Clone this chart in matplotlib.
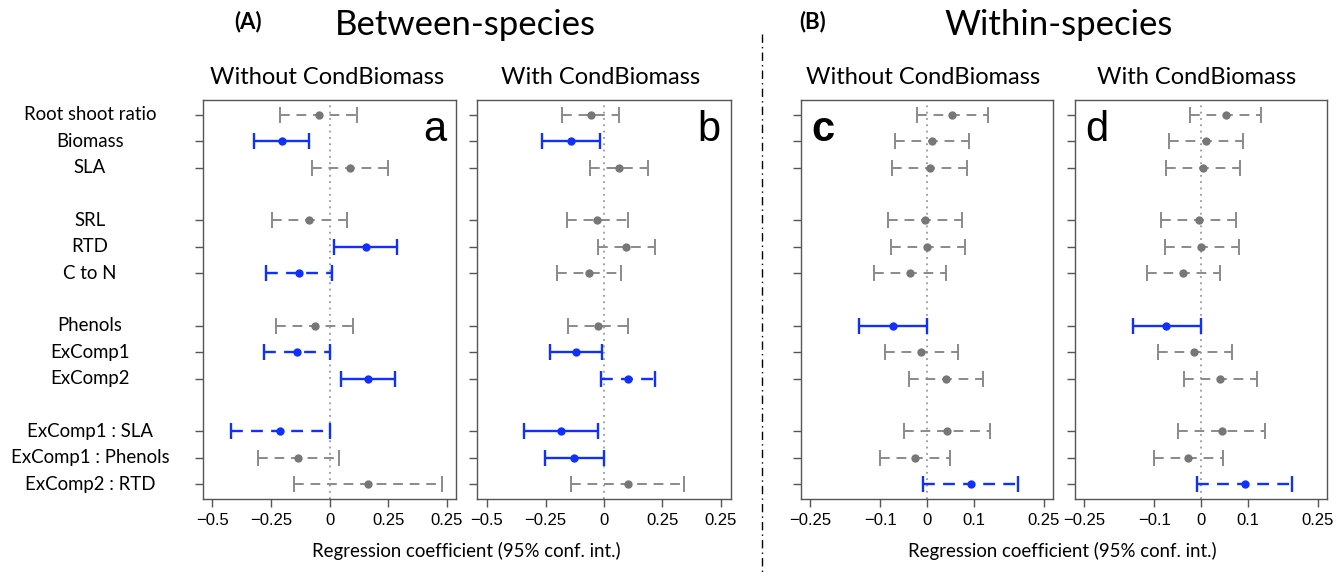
import matplotlib.pyplot as plt
import matplotlib.transforms as mtransforms
from matplotlib.lines import Line2D

terms = ["Root shoot ratio", "Biomass", "SLA", "SRL", "RTD", "C to N",
         "Phenols", "ExComp1", "ExComp2", "ExComp1 : SLA", "ExComp1 : Phenols",
         "ExComp2 : RTD"]
row_pos = [0, 1, 2, 4, 5, 6, 8, 9, 10, 12, 13, 14]

# estimates with 95% CI; style: g = grey dashed, s = blue solid, d = blue dashed
a_est = [-0.046, -0.204, 0.086, -0.086, 0.154, -0.131, -0.064, -0.140, 0.163, -0.210, -0.133, 0.164]
a_lo = [-0.211, -0.321, -0.076, -0.246, 0.019, -0.271, -0.229, -0.279, 0.049, -0.421, -0.306, -0.150]
a_hi = [0.117, -0.089, 0.249, 0.074, 0.290, 0.011, 0.100, 0.000, 0.279, 0.003, 0.039, 0.479]
a_sty = ["g", "s", "g", "g", "s", "d", "g", "d", "s", "d", "g", "g"]

b_est = [-0.057, -0.141, 0.066, -0.031, 0.094, -0.064, -0.027, -0.120, 0.103, -0.183, -0.129, 0.103]
b_lo = [-0.179, -0.266, -0.059, -0.160, -0.027, -0.199, -0.156, -0.231, -0.013, -0.341, -0.251, -0.139]
b_hi = [0.066, -0.017, 0.187, 0.101, 0.217, 0.071, 0.104, -0.007, 0.219, -0.026, -0.001, 0.344]
b_sty = ["g", "s", "g", "g", "g", "g", "g", "s", "d", "s", "s", "g"]

c_est = [0.054, 0.010, 0.006, -0.004, 0.001, -0.036, -0.073, -0.013, 0.040, 0.043, -0.026, 0.094]
c_lo = [-0.021, -0.069, -0.074, -0.084, -0.078, -0.114, -0.145, -0.091, -0.038, -0.050, -0.101, -0.008]
c_hi = [0.130, 0.089, 0.085, 0.074, 0.081, 0.041, 0.000, 0.066, 0.119, 0.136, 0.049, 0.196]
c_sty = ["g", "g", "g", "g", "g", "g", "s", "g", "g", "g", "g", "d"]

d_est = [0.053, 0.010, 0.004, -0.005, 0.001, -0.038, -0.074, -0.014, 0.041, 0.044, -0.027, 0.094]
d_lo = [-0.023, -0.069, -0.076, -0.086, -0.077, -0.116, -0.146, -0.093, -0.037, -0.050, -0.101, -0.009]
d_hi = [0.129, 0.089, 0.084, 0.074, 0.081, 0.041, -0.001, 0.066, 0.119, 0.138, 0.048, 0.196]
d_sty = ["g", "g", "g", "g", "g", "g", "s", "g", "g", "g", "g", "d"]

between_ticks = [-0.5, -0.25, 0, 0.25, 0.5]
between_labels = ["\u22120.5", "\u22120.25", "0", "0.25", "0.25"]
within_ticks = [-0.25, -0.1, 0, 0.1, 0.25]
within_labels = ["\u22120.25", "\u22120.1", "0", "0.1", "0.25"]

GREY = "#8a8a8a"
BLUE = "#1030ff"
HEAD = "Lato"
TICKF = "Liberation Sans"

fig = plt.figure(figsize=(13.44, 5.72), dpi=100)
W, H = 1344, 572


def panel(left_px, right_px, est, lo, hi, sty, xlim, ticks, labels, letter, bold, letter_left):
    ax = fig.add_axes([left_px / W, 73 / H, (right_px - left_px) / W, 399 / H])
    ax.axvline(0, color="#999999", lw=1.3, ls=(0, (1, 2.5)), zorder=1)
    for y, e, l, h, s in zip(row_pos, est, lo, hi, sty):
        col = GREY if s == "g" else BLUE
        lw = 1.4 if s == "g" else 1.7
        ls = "-" if s == "s" else (0, (5, 3.5))
        ax.hlines(y, l, h, colors=col, lw=lw, linestyles=ls, zorder=2)
        ax.plot([l, h], [y, y], ls="none", marker="|", ms=12, mew=lw, color=col, zorder=3)
        ax.plot([e], [y], ls="none", marker="o", ms=6, color="#777777" if s == "g" else BLUE,
                mec="none", zorder=4)
    ax.set_xlim(*xlim)
    ax.set_ylim(14.56, -0.56)
    ax.set_xticks(ticks)
    ax.set_xticklabels(labels, fontfamily=TICKF, fontsize=12)
    ax.set_yticks(row_pos)
    ax.set_yticklabels([])
    ax.tick_params(axis="both", length=6, width=1, color="#555555", direction="out")
    ax.tick_params(axis="x", pad=4)
    for sp in ax.spines.values():
        sp.set_color("#555555")
        sp.set_linewidth(1)
    if letter_left:
        ax.text(0.04, 0.975, letter, transform=ax.transAxes, ha="left", va="top",
                fontsize=30, fontweight="bold" if bold else "normal", family="Liberation Sans")
    else:
        ax.text(0.96, 0.975, letter, transform=ax.transAxes, ha="right", va="top",
                fontsize=30, fontweight="bold" if bold else "normal", family="Liberation Sans")
    return ax


ax_a = panel(203, 456, a_est, a_lo, a_hi, a_sty, (-0.54, 0.54), between_ticks, between_labels, "a", False, False)
ax_b = panel(477, 731, b_est, b_lo, b_hi, b_sty, (-0.543, 0.543), between_ticks, between_labels, "b", False, False)
ax_c = panel(801, 1053, c_est, c_lo, c_hi, c_sty, (-0.27, 0.27), within_ticks, within_labels, "c", True, True)
ax_d = panel(1075, 1327, d_est, d_lo, d_hi, d_sty, (-0.27, 0.27), within_ticks, within_labels, "d", False, True)

# row labels, centred in the left margin
trans = mtransforms.blended_transform_factory(fig.transFigure, ax_a.transData)
for y, t in zip(row_pos, terms):
    fig.text(90 / W, y, t, transform=trans, ha="center", va="center", fontsize=13.4, family=HEAD)

# headings
fig.text(248 / W, 1 - 22 / H, "(A)", ha="center", va="center", fontsize=16, fontweight="bold", family=HEAD)
fig.text(465 / W, 1 - 25 / H, "Between-species", ha="center", va="center", fontsize=25, family=HEAD)
fig.text(813 / W, 1 - 22 / H, "(B)", ha="center", va="center", fontsize=16, fontweight="bold", family=HEAD)
fig.text(1059 / W, 1 - 25 / H, "Within-species", ha="center", va="center", fontsize=25, family=HEAD)
for x, t in [(327, "Without CondBiomass"), (601, "With CondBiomass"),
             (923, "Without CondBiomass"), (1197, "With CondBiomass")]:
    fig.text(x / W, 1 - 77 / H, t, ha="center", va="center", fontsize=17, family=HEAD)
for x in (466, 1062):
    fig.text(x / W, 1 - 551 / H, "Regression coefficient (95% conf. int.)", ha="center", va="center",
             fontsize=13.4, family=HEAD)

# separator between the two blocks
fig.add_artist(Line2D([762 / W, 762 / W], [1 - 34 / H, 0], transform=fig.transFigure,
                      color="black", lw=1, ls=(0, (6, 3, 1, 3))))

fig.savefig("out.png", dpi=100)
